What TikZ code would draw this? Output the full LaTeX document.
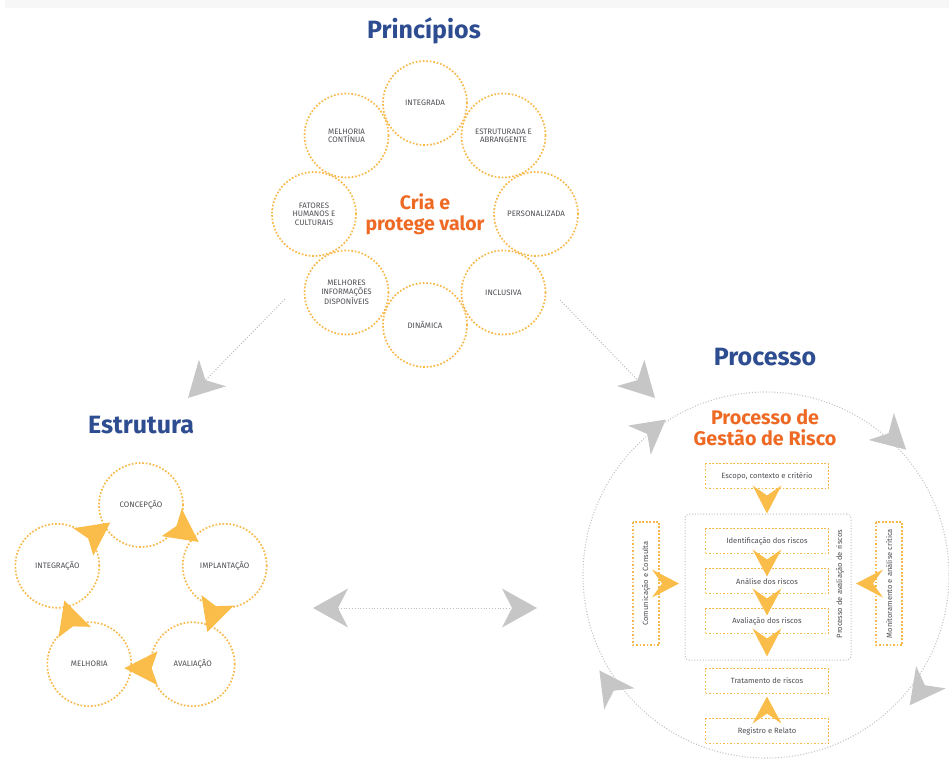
\documentclass[tikz,border=0pt]{standalone}
\usepackage{fontspec}
\setmainfont{Fira Sans}
\usetikzlibrary{calc}
\definecolor{tblue}{HTML}{2E4D91}
\definecolor{torange}{HTML}{EE6A24}
\definecolor{dotc}{HTML}{F8B94C}
\definecolor{arrc}{HTML}{FBBD4A}
\definecolor{labc}{HTML}{4F4F55}
\definecolor{gdot}{HTML}{BDBDBD}
\definecolor{garr}{HTML}{C6C6C6}
% #1 colour, #2 tip, #3 back, #4 half width, #5 inset
\newcommand\kite[5]{\fill[#1] (#2) -- ($(#3)!#4!90:(#2)$) -- ($(#3)!#5!(#2)$) -- ($(#3)!#4!-90:(#2)$) -- cycle;}
\begin{document}
\begin{tikzpicture}[x=1pt,y=-1pt,
  title/.style={font=\fontsize{25}{28}\selectfont\bfseries, text=tblue, inner sep=0pt},
  otitle/.style={font=\fontsize{19.5}{21.5}\selectfont\bfseries, text=torange, align=center, inner sep=0pt},
  pcirc/.style={circle, draw=dotc, line width=1.7pt, dash pattern=on 1.7pt off 1.8pt, minimum size=84pt, inner sep=0pt, align=center, text=labc, font=\fontsize{7.9}{8.4}\selectfont},
  obox/.style={draw=dotc, line width=1.9pt, dash pattern=on 1.9pt off 1.6pt, minimum width=123pt, minimum height=25pt, inner sep=0pt, text=labc, font=\fontsize{7.6}{9}\selectfont},
  gline/.style={draw=gdot, line width=1pt, dash pattern=on 1pt off 1.8pt},
]
\useasboundingbox (0,0) rectangle (949,764);
\fill[black!3] (5,0) rectangle (949,8);

% ---------- Principios ----------
\node[title] (tprin) at (424,31) {Princípios};
\coordinate (pcen) at (425,214);
\node[otitle] (cria) at (pcen) {Cria e\\protege valor};
\node[pcirc] (p1) at ($(pcen)+(-90:111)$) {INTEGRADA};
\node[pcirc] (p2) at ($(pcen)+(-45:111)$) {ESTRUTURADA E\\ABRANGENTE};
\node[pcirc] (p3) at ($(pcen)+(0:111)$) {PERSONALIZADA};
\node[pcirc] (p4) at ($(pcen)+(45:111)$) {INCLUSIVA};
\node[pcirc] (p5) at ($(pcen)+(90:111)$) {DINÂMICA};
\node[pcirc] (p6) at ($(pcen)+(135:111)$) {MELHORES\\INFORMAÇÕES\\DISPONÍVEIS};
\node[pcirc] (p7) at ($(pcen)+(180:111)$) {FATORES\\HUMANOS E\\CULTURAIS};
\node[pcirc] (p8) at ($(pcen)+(225:111)$) {MELHORIA\\CONTÍNUA};

% arrows from Principios
\coordinate (ls) at (285,299); \coordinate (lt) at (188,398);
\coordinate (lb) at ($(lt)!35pt!(ls)$);
\draw[gline] (ls) -- ($(lb)!10pt!(lt)$);
\kite{garr}{lt}{lb}{19pt}{10pt}
\coordinate (rs) at (560,300); \coordinate (rt) at (655,398);
\coordinate (rb) at ($(rt)!35pt!(rs)$);
\draw[gline] (rs) -- ($(rb)!10pt!(rt)$);
\kite{garr}{rt}{rb}{19pt}{10pt}

% ---------- Estrutura ----------
\node[title] (testr) at (141,425) {Estrutura};
\coordinate (ec) at (141,593);
\node[pcirc] (e1) at ($(ec)+(-90:88)$) {CONCEPÇÃO};
\node[pcirc] (e2) at ($(ec)+(-18:88)$) {IMPLANTAÇÃO};
\node[pcirc] (e3) at ($(ec)+(54:88)$) {AVALIAÇÃO};
\node[pcirc] (e4) at ($(ec)+(126:88)$) {MELHORIA};
\node[pcirc] (e5) at ($(ec)+(198:88)$) {INTEGRAÇÃO};
\foreach \p [count=\i] in {-54,18,90,162,234}{
  \coordinate (et\i) at ($(ec)+(\p+12.5:77)$);
  \coordinate (eb\i) at ($(ec)+(\p-12.5:77)$);
  \kite{arrc}{et\i}{eb\i}{17pt}{6pt}
}

% double arrow
\coordinate (dl) at (313,608); \coordinate (dr) at (537,608);
\coordinate (dlb) at ($(dl)!35pt!(dr)$);
\coordinate (drb) at ($(dr)!35pt!(dl)$);
\draw[gline] ($(dlb)!10pt!(dl)$) -- ($(drb)!10pt!(dr)$);
\kite{garr}{dl}{dlb}{19.5pt}{10pt}
\kite{garr}{dr}{drb}{19.5pt}{10pt}

% ---------- Processo ----------
\node[title] (tproc) at (765,357) {Processo};
\coordinate (bc) at (766,575);
\draw[gline, line width=1.1pt, draw=gdot!90] (bc) circle[radius=183];
\foreach \p/\r [count=\i] in {-128/185,-47/188,37/194,145/192}{
  \coordinate (gt\i) at ($(bc)+(\p+5.2:\r)$);
  \coordinate (gb\i) at ($(bc)+(\p-5.2:\r)$);
  \kite{garr}{gt\i}{gb\i}{18.5pt}{10pt}
}
\node[otitle, font=\fontsize{19.7}{21}\selectfont\bfseries] (tgest) at (765,428) {Processo de\\Gestão de Risco};

\node[gline, rounded corners=4pt, minimum width=166pt, minimum height=146pt, inner sep=0pt] (pav) at (768,587) {};
\node[rotate=90, text=labc, font=\fontsize{7.6}{9}\selectfont, inner sep=0pt] (pavl) at (840,584) {Processo de avaliação de riscos};

\node[obox] (escopo) at (767,476) {Escopo, contexto e critério};
\node[obox] (ident) at (767,541) {Identificação dos riscos};
\node[obox] (analise) at (767,581) {Análise dos riscos};
\node[obox] (avalia) at (767,621) {Avaliação dos riscos};
\node[obox] (trat) at (767,681) {Tratamento de riscos};
\node[obox] (regis) at (767,731) {Registro e Relato};
\node[obox, rotate=90, minimum height=26pt] (comun) at (646,583.5) {Comunicação e Consulta};
\node[obox, rotate=90, minimum height=26pt] (monit) at (889,583.5) {Monitoramento e análise crítica};

% orange arrows in process
\coordinate (k1t) at ($(escopo.south)+(0,24)$); \coordinate (k1b) at ($(escopo.south)+(0,-4)$);
\kite{arrc}{k1t}{k1b}{14.5pt}{10pt}
\coordinate (k2t) at ($(ident.south)+(0,22)$); \coordinate (k2b) at ($(ident.south)+(0,-5)$);
\kite{arrc}{k2t}{k2b}{14.5pt}{10pt}
\coordinate (k3t) at ($(analise.south)+(0,21)$); \coordinate (k3b) at ($(analise.south)+(0,-6)$);
\kite{arrc}{k3t}{k3b}{14.5pt}{10pt}
\coordinate (k4t) at ($(avalia.south)+(0,22)$); \coordinate (k4b) at ($(avalia.south)+(0,-6)$);
\kite{arrc}{k4t}{k4b}{14.5pt}{10pt}
\coordinate (k5t) at ($(regis.north)+(0,-21)$); \coordinate (k5b) at ($(regis.north)+(0,6)$);
\kite{arrc}{k5t}{k5b}{14.5pt}{10pt}
\coordinate (k6t) at ($(comun.center)+(33,0)$); \coordinate (k6b) at ($(comun.center)+(6,0)$);
\kite{arrc}{k6t}{k6b}{14pt}{10pt}
\coordinate (k7t) at ($(monit.center)+(-33,0)$); \coordinate (k7b) at ($(monit.center)+(-6,0)$);
\kite{arrc}{k7t}{k7b}{14pt}{10pt}
\end{tikzpicture}
\end{document}
